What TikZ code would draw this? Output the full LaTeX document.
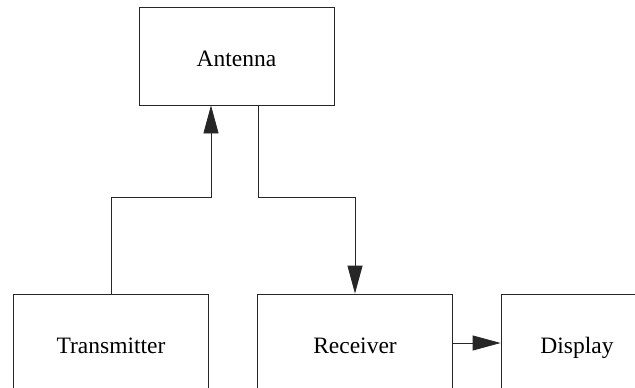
\documentclass[tikz,border=0pt]{standalone}
\usepackage{fontspec}
\setmainfont{Liberation Serif}
\usetikzlibrary{arrows.meta,positioning,calc}

\begin{document}
\begin{tikzpicture}[
    x=1pt, y=-1pt,
    font=\fontsize{23.5}{28}\selectfont,
    box/.style={
        draw=black!85,
        line width=0.8pt,
        minimum width=195pt,
        minimum height=98pt,
        inner sep=0pt,
        text height=20pt,
        text depth=0pt,
        align=center
    },
    arr/.style={-{Triangle[length=28pt,width=15pt]}, line width=0.8pt, draw=black!85}
]

\path[use as bounding box, clip] (0,0) rectangle (635,388);

% top row
\node[box] (ant) at (236.5,56) {Antenna};

% bottom row
\node[box] (tx) at (111,343) {Transmitter};
\node[box] (rx) at (355,343) {Receiver};
\node[box, minimum width=152pt] (disp) at (577,343) {Display};

% joints
\coordinate (tj) at (211,197);
\coordinate (rj) at (258,197);

\draw[arr] (tx.north) |- (tj) -- (tj |- ant.south);
\draw[arr] (rj |- ant.south) -- (rj) -| (rx.north);
\draw[arr] (rx.east) -- (disp.west);

\end{tikzpicture}
\end{document}
